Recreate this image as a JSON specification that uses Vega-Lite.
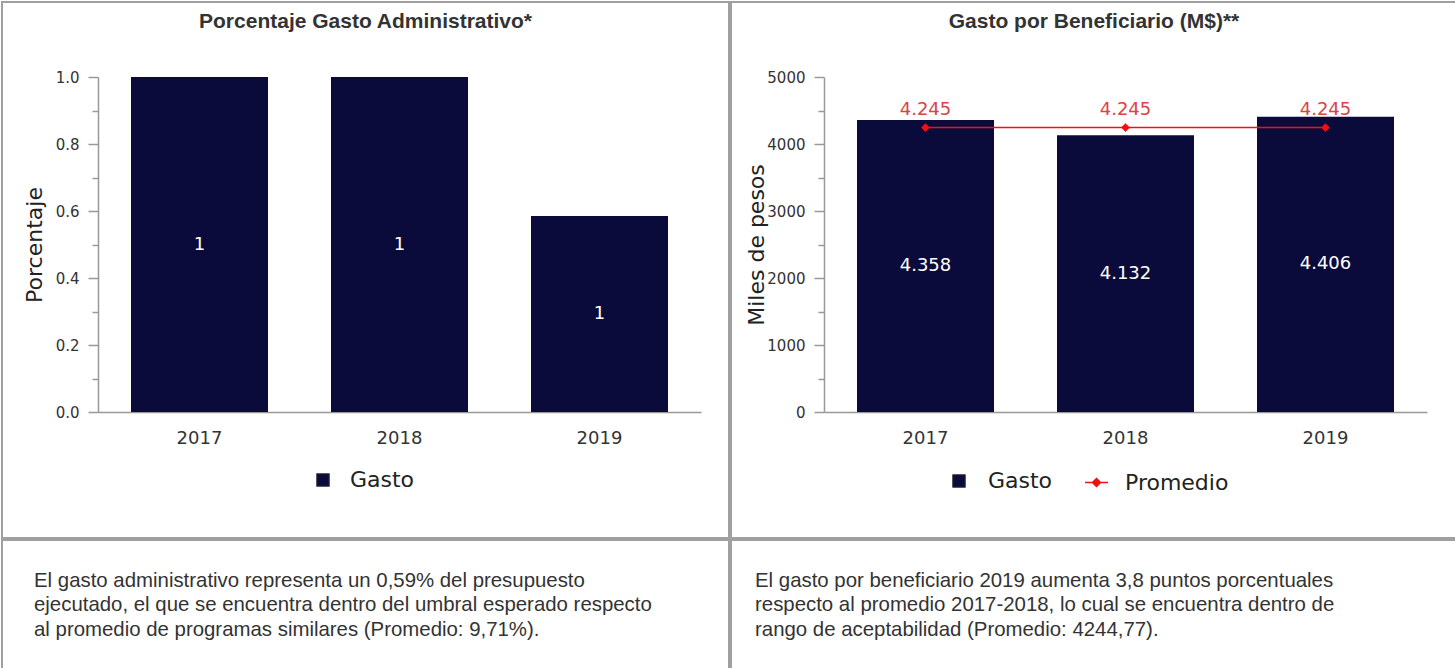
{
  "$schema": "https://vega.github.io/schema/vega-lite/v6.json",
  "padding": 1,
  "spacing": 0,
  "background": "white",
  "resolve": {"scale": {"fill": "independent", "stroke": "independent"}, "legend": {"fill": "independent", "stroke": "independent"}},
  "config": {
    "view": {"stroke": "#a0a0a0", "strokeWidth": 2},
    "locale": {"number": {"decimal": ".", "thousands": ".", "grouping": [3], "currency": ["$", ""]}},
    "axis": {"labelFont": "DejaVu Sans", "labelColor": "#333", "domainColor": "#999", "tickColor": "#999", "domainWidth": 1.5, "tickWidth": 1.5, "grid": false, "titleFont": "DejaVu Sans", "titleFontWeight": "normal", "titleColor": "#222"},
    "legend": {"labelFont": "DejaVu Sans", "labelColor": "#222", "labelFontSize": 22},
    "title": {"font": "Liberation Sans", "fontSize": 21, "fontWeight": "bold", "color": "#333"}
  },
  "vconcat": [
    {
      "spacing": 0,
      "resolve": {"scale": {"fill": "independent", "stroke": "independent"}, "legend": {"fill": "independent", "stroke": "independent"}},
      "hconcat": [
        {
          "width": 727,
          "height": 536,
          "title": {"text": "Porcentaje Gasto Administrativo*", "anchor": "middle", "frame": "group", "offset": -30},
          "data": {"values": [
            {"anio": "2017", "valor": 1.0},
            {"anio": "2018", "valor": 1.0},
            {"anio": "2019", "valor": 0.585}
          ]},
          "encoding": {
            "x": {"field": "anio", "type": "ordinal", "scale": {"range": [96, 699], "paddingInner": 0.315, "paddingOuter": 0.165},
              "axis": {"orient": "bottom", "offset": -126, "title": null, "labelAngle": 0, "ticks": false, "labelPadding": 17, "labelFontSize": 18}}
          },
          "layer": [
            {
              "mark": {"type": "bar", "color": "#0b0b3b"},
              "encoding": {
                "y": {"field": "valor", "type": "quantitative", "scale": {"domain": [0, 1], "range": [410, 75], "nice": false},
                  "axis": {"orient": "left", "offset": -96, "values": [0, 0.2, 0.4, 0.6, 0.8, 1], "format": ".1f", "tickSize": 10, "labelPadding": 9, "labelFontSize": 15, "title": "Porcentaje", "titleFontSize": 22, "titleX": -57, "titleBaseline": "alphabetic", "titleAngle": -90}},
                "fill": {"datum": "Gasto", "type": "nominal", "scale": {"range": ["#0b0b3b"]},
                  "legend": {"orient": "none", "legendX": 310, "legendY": 467, "title": null, "symbolType": "square", "symbolSize": 160, "symbolStrokeColor": "#444", "symbolStrokeWidth": 1, "labelOffset": 16}}
              }
            },
            {
              "transform": [{"calculate": "datum.valor / 2", "as": "medio"}],
              "mark": {"type": "text", "color": "white", "font": "DejaVu Sans", "fontSize": 18, "baseline": "middle"},
              "encoding": {
                "y": {"field": "medio", "type": "quantitative", "scale": {"domain": [0, 1], "range": [410, 75], "nice": false},
                  "axis": {"orient": "left", "offset": -96, "values": [0.1, 0.3, 0.5, 0.7, 0.9], "labels": false, "domain": false, "tickSize": 6, "title": null}},
                "text": {"field": "valor", "type": "quantitative", "format": ".0f"}
              }
            }
          ],
          "resolve": {"axis": {"y": "independent"}}
        },
        {
          "width": 726,
          "height": 536,
          "title": {"text": "Gasto por Beneficiario (M$)**", "anchor": "middle", "frame": "group", "offset": -30},
          "data": {"values": [
            {"anio": "2017", "gasto": 4358, "promedio": 4244.77},
            {"anio": "2018", "gasto": 4132, "promedio": 4244.77},
            {"anio": "2019", "gasto": 4406, "promedio": 4244.77}
          ]},
          "encoding": {
            "x": {"field": "anio", "type": "ordinal", "scale": {"range": [93, 696], "paddingInner": 0.315, "paddingOuter": 0.165},
              "axis": {"orient": "bottom", "offset": -126, "title": null, "labelAngle": 0, "ticks": false, "labelPadding": 17, "labelFontSize": 18}}
          },
          "layer": [
            {
              "mark": {"type": "bar", "color": "#0b0b3b"},
              "encoding": {
                "y": {"field": "gasto", "type": "quantitative", "scale": {"domain": [0, 5000], "range": [410, 75], "nice": false},
                  "axis": {"orient": "left", "offset": -93, "values": [0, 1000, 2000, 3000, 4000, 5000], "format": "d", "tickSize": 10, "labelPadding": 9, "labelFontSize": 15, "title": "Miles de pesos", "titleFontSize": 22, "titleX": -61, "titleBaseline": "alphabetic", "titleAngle": -90}},
                "fill": {"datum": "Gasto", "type": "nominal", "scale": {"range": ["#0b0b3b"]},
                  "legend": {"orient": "none", "legendX": 217, "legendY": 468, "title": null, "symbolType": "square", "symbolSize": 160, "symbolStrokeColor": "#444", "symbolStrokeWidth": 1, "labelOffset": 18}}
              }
            },
            {
              "transform": [{"calculate": "datum.gasto / 2", "as": "medio"}],
              "mark": {"type": "text", "color": "white", "font": "DejaVu Sans", "fontSize": 18, "baseline": "middle"},
              "encoding": {
                "y": {"field": "medio", "type": "quantitative", "scale": {"domain": [0, 5000], "range": [410, 75], "nice": false},
                  "axis": {"orient": "left", "offset": -93, "values": [500, 1500, 2500, 3500, 4500], "labels": false, "domain": false, "tickSize": 6, "title": null}},
                "text": {"field": "gasto", "type": "quantitative", "format": ",.0f"}
              }
            },
            {
              "mark": {"type": "line", "strokeWidth": 1.5},
              "encoding": {
                "y": {"field": "promedio", "type": "quantitative", "scale": {"domain": [0, 5000], "range": [410, 75], "nice": false}, "axis": null},
                "stroke": {"datum": "Promedio", "type": "nominal", "scale": {"range": ["#ee1111"]},
                  "legend": {"orient": "none", "legendX": 353, "legendY": 468, "title": null, "symbolType": "M-1,0H1M0,-0.35L0.35,0L0,0.35L-0.35,0Z", "symbolSize": 530, "symbolFillColor": "#ee1111", "symbolStrokeWidth": 1.5, "labelOffset": 16}}
              }
            },
            {
              "mark": {"type": "point", "shape": "diamond", "filled": true, "color": "#ee1111", "size": 75, "opacity": 1},
              "encoding": {
                "y": {"field": "promedio", "type": "quantitative", "scale": {"domain": [0, 5000], "range": [410, 75], "nice": false}, "axis": null}
              }
            },
            {
              "mark": {"type": "text", "color": "#d94444", "font": "DejaVu Sans", "fontSize": 18, "baseline": "middle", "dy": -18},
              "encoding": {
                "y": {"field": "promedio", "type": "quantitative", "scale": {"domain": [0, 5000], "range": [410, 75], "nice": false}, "axis": null},
                "text": {"field": "promedio", "type": "quantitative", "format": ",.0f"}
              }
            }
          ],
          "resolve": {"axis": {"y": "independent"}}
        }
      ]
    },
    {
      "spacing": 0,
      "hconcat": [
        {
          "width": 727,
          "height": 130,
          "view": {"stroke": "#a0a0a0", "strokeWidth": 2},
          "data": {"values": [
            {"t": ["El gasto administrativo representa un 0,59% del presupuesto", "ejecutado, el que se encuentra dentro del umbral esperado respecto", "al promedio de programas similares (Promedio: 9,71%)."]}
          ]},
          "mark": {"type": "text", "align": "left", "baseline": "middle", "dx": -331.5, "dy": -24.5, "font": "Liberation Sans", "fontSize": 20.4, "lineHeight": 24.5, "color": "#333"},
          "encoding": {"text": {"field": "t"}}
        },
        {
          "width": 726,
          "height": 130,
          "view": {"stroke": "#a0a0a0", "strokeWidth": 2},
          "data": {"values": [
            {"t": ["El gasto por beneficiario 2019 aumenta 3,8 puntos porcentuales", "respecto al promedio 2017-2018, lo cual se encuentra dentro de", "rango de aceptabilidad (Promedio: 4244,77)."]}
          ]},
          "mark": {"type": "text", "align": "left", "baseline": "middle", "dx": -339, "dy": -24.5, "font": "Liberation Sans", "fontSize": 20.4, "lineHeight": 24.5, "color": "#333"},
          "encoding": {"text": {"field": "t"}}
        }
      ]
    }
  ]
}
